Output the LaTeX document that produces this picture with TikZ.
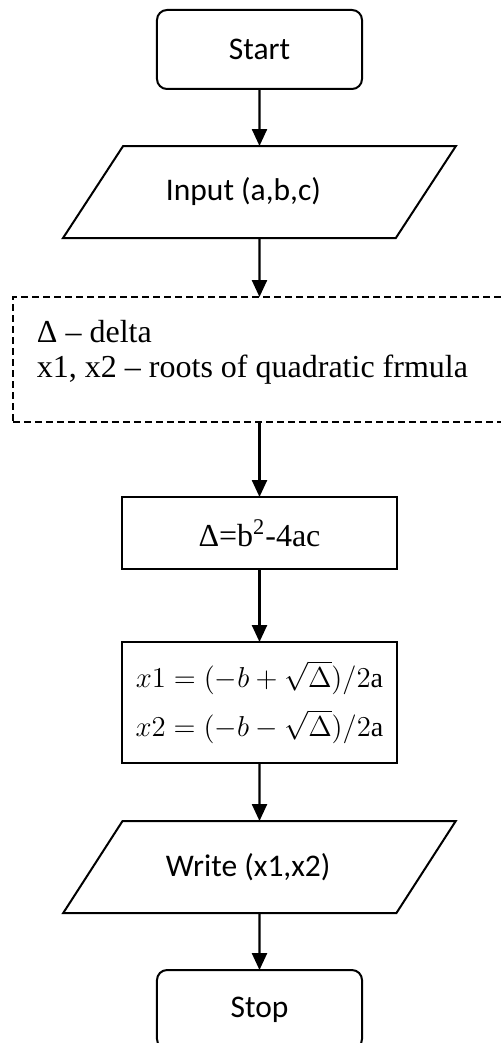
\documentclass[tikz,border=0pt]{standalone}
\usepackage{fontspec}
\setmainfont{Liberation Serif}
\newfontfamily\calibri{Carlito}
\usetikzlibrary{arrows.meta,positioning,shapes.geometric}
\tikzset{
  hatar/.style={draw,line width=1pt,rounded corners=5pt,minimum width=102.5pt,minimum height=39.5pt,
                outer sep=0pt,font=\calibri\fontsize{15.75}{19}\selectfont},
  adat/.style={draw,line width=1pt,trapezium,trapezium stretches=true,trapezium left angle=43.2,
               trapezium right angle=136.8,minimum width=196.5pt,minimum height=46pt,
               text width=93.5pt,align=flush left,outer sep=0pt,font=\calibri\fontsize{15.75}{19}\selectfont},
  megj/.style={draw,line width=1pt,dash pattern=on 3.5pt off 2pt,text width=240pt,inner xsep=12pt,
               inner ysep=0pt,text height=22.5pt,text depth=40pt,align=flush left,outer sep=0pt,
               font=\fontsize{16}{17.5}\selectfont},
  muvelet/.style={draw,line width=1pt,minimum width=137pt,align=center,outer sep=0pt,
                  font=\fontsize{16}{19}\selectfont},
  kapcs/.style={-{Triangle[length=8.5pt,width=7.5pt]},line width=1.2pt},
}
\begin{document}
\begin{tikzpicture}
  \useasboundingbox (-129.75pt,24.75pt) rectangle (120.25pt,-496.75pt);
  \node[hatar] (a) at (0,0) {Start};
  \node[adat,below=28.5pt of a] (b) {Input (a,b,c)};
  % the dashed box runs off the right edge
  \node[megj,below=29.5pt of b,xshift=8.75pt] (c) {Δ – delta\\x1, x2 – roots of quadratic frmula};
  \node[muvelet,minimum height=36pt,below=37.5pt of c,xshift=-8.75pt] (d) {Δ=b\textsuperscript{2}-4ac};
  \node[muvelet,minimum height=60.5pt,below=36.5pt of d,font=\fontsize{14}{19}\selectfont] (e)
       {$x1=(-b+\sqrt{\Delta})/2$a\\[5.5pt]$x2=(-b-\sqrt{\Delta})/2$a};
  \node[adat,below=29pt of e] (f) {Write (x1,x2)};
  \node[hatar,below=28.5pt of f] (g) {Stop};
  \draw[kapcs] (a) -- (b);
  \draw[kapcs] (b) -- (b |- c.north);
  \draw[kapcs] (c.south -| d) -- (d);
  \draw[kapcs] (d) -- (e);
  \draw[kapcs] (e) -- (f);
  \draw[kapcs] (f) -- (g);
\end{tikzpicture}
\end{document}
